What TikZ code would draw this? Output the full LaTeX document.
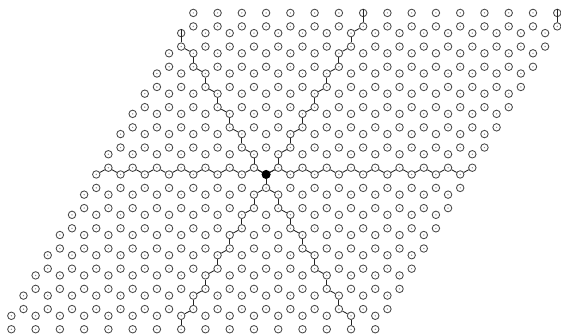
\documentclass[tikz,border=0pt]{standalone}
\usepackage{tikz}
\usetikzlibrary{calc}
\definecolor{ringx}{HTML}{4A4A4A}
\definecolor{dotx}{HTML}{8A8A8A}
\definecolor{bondx}{HTML}{222222}
\tikzset{
  site/.style={circle,draw=ringx,line width=0.65pt,fill=white,inner sep=0pt,minimum size=5.6pt,
    path picture={\fill[dotx] (path picture bounding box.center) circle (0.55pt);}},
  hub/.style={circle,fill=black,inner sep=0pt,minimum size=6.8pt},
  bond/.style={bondx,line width=0.65pt}
}
\begin{document}
\begin{tikzpicture}[x=9.0975pt,y=5.0475pt]
\useasboundingbox (-0.936,-0.862) rectangle (45.31,48.92);
% lattice sites, a = lower, b = upper of each cell
\foreach \r in {0,...,15}
  \foreach \c in {0,...,15} {
    \node[site] (a\r-\c) at ({2*\c+\r},{3*\r}) {};
    \node[site] (b\r-\c) at ({2*\c+\r},{3*\r+2}) {};
  }
% column through the hub
\foreach \r in {0,...,14} {
  \pgfmathtruncatemacro\s{\r+1}
  \draw[bond] (a\r-7) -- (b\r-7);
  \draw[bond] (b\r-7) -- (a\s-7);
}
\draw[bond] (a15-7) -- (b15-7.north);
% other diagonal
\foreach \r in {0,...,13} {
  \pgfmathtruncatemacro\c{14-\r}
  \pgfmathtruncatemacro\s{\r+1}
  \pgfmathtruncatemacro\d{13-\r}
  \draw[bond] (a\r-\c) -- (b\r-\c);
  \draw[bond] (b\r-\c) -- (a\s-\d);
}
\draw[bond] (a14-0) -- (b14-0.north);
\draw[bond] (a15-15) -- (b15-15.north);
% row through the hub
\foreach \c in {0,...,15}
  \draw[bond] (b7-\c) -- (a8-\c);
\foreach \c in {0,...,14} {
  \pgfmathtruncatemacro\d{\c+1}
  \draw[bond] (a8-\c) -- (b7-\d);
}
\node[hub] (hub) at (b7-7) {};
\end{tikzpicture}
\end{document}
